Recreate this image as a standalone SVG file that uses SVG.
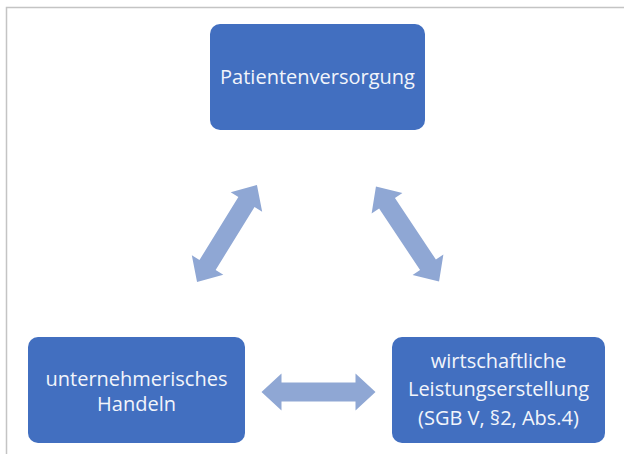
<svg xmlns="http://www.w3.org/2000/svg" width="624" height="454" viewBox="0 0 624 454">
<style>
.box{fill:#426FC0;}
.t{fill:#F2F5FB;font-family:"Open Sans","Liberation Sans",sans-serif;text-anchor:middle;font-size:20px;}
.arr{fill:#8FA7D4;}
</style>
<defs>
<path id="dbl" d="M -57 0 L -37 -18.5 L -37 -9.5 L 37 -9.5 L 37 -18.5 L 57 0 L 37 18.5 L 37 9.5 L -37 9.5 L -37 18.5 Z"/>
</defs>
<rect width="624" height="454" fill="#FFFFFF"/>
<path d="M 6.5 454 L 6.5 7.5 L 624 7.5" fill="none" stroke="#C4C4C4" stroke-width="1.5"/>
<g id="connectors">
<use href="#dbl" class="arr" transform="translate(227 233.5) rotate(-58.3)"/>
<use href="#dbl" class="arr" transform="translate(407.5 234) rotate(56.4)"/>
<use href="#dbl" class="arr" transform="translate(318.5 392)"/>
</g>
<g id="patientenversorgung">
<rect class="box" x="210" y="24" width="215" height="106" rx="10"/>
<text class="t" x="317.5" y="84">Patientenversorgung</text>
</g>
<g id="unternehmerisches-handeln">
<rect class="box" x="28" y="337" width="217" height="106" rx="10"/>
<text class="t" x="136.5" y="386">unternehmerisches</text>
<text class="t" x="136.5" y="411">Handeln</text>
</g>
<g id="wirtschaftliche-leistungserstellung">
<rect class="box" x="392" y="337" width="213" height="106" rx="10"/>
<text class="t" x="498.5" y="368">wirtschaftliche</text>
<text class="t" x="498.5" y="396">Leistungserstellung</text>
<text class="t" x="498.5" y="425">(SGB V, §2, Abs.4)</text>
</g>
</svg>
